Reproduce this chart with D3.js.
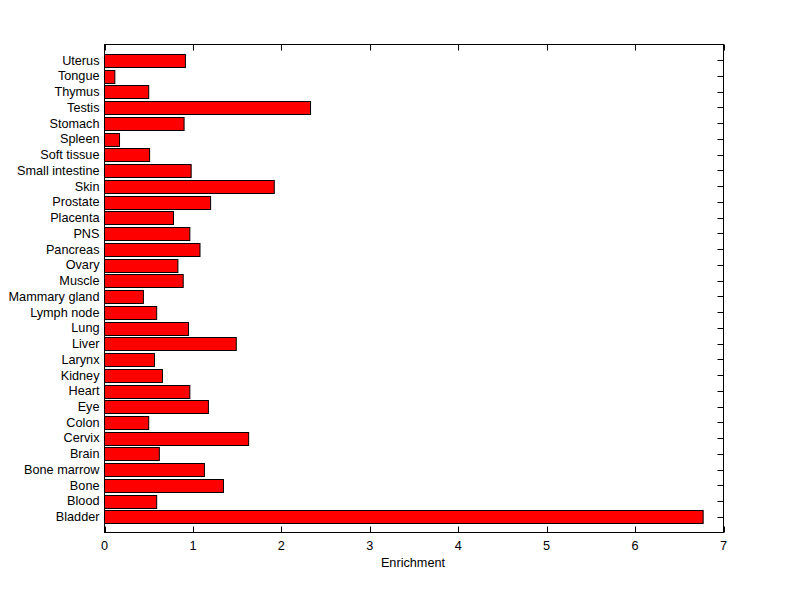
<!DOCTYPE html>
<html><head><meta charset="utf-8">
<script src="https://cdn.jsdelivr.net/npm/d3@7"></script>
<style>body{margin:0;background:#fff}svg{display:block}text{font-family:"Liberation Sans",Arial,sans-serif;font-size:12.7px;fill:#000}</style>
</head><body><svg id="c" width="800" height="599"></svg>
<script>
const categories = ["Bladder","Blood","Bone","Bone marrow","Brain","Cervix","Colon","Eye","Heart","Kidney","Larynx","Liver","Lung","Lymph node","Mammary gland","Muscle","Ovary","Pancreas","PNS","Placenta","Prostate","Skin","Small intestine","Soft tissue","Spleen","Stomach","Testis","Thymus","Tongue","Uterus"];
const values = [6.77,0.59,1.345,1.13,0.62,1.63,0.50,1.175,0.965,0.655,0.565,1.49,0.95,0.59,0.44,0.89,0.83,1.08,0.965,0.78,1.20,1.92,0.98,0.51,0.17,0.90,2.33,0.50,0.117,0.915];
const xTicks = [0,1,2,3,4,5,6,7];
const xLabel = "Enrichment";

const svg = d3.select("#c");
const L=104.5, R=723.5, T=44.5, B=532.5;
const x = d3.scaleLinear().domain([0,7]).range([L,R]);
const n = categories.length;
const y = d3.scaleLinear().domain([0,n+1]).range([B,T]);
const bw = 0.8*(B-T)/(n+1);

const g = svg.append("g");
g.selectAll("rect.bar").data(values).enter().append("rect")
  .attr("x", x(0))
  .attr("y",(d,i)=>Math.round(y(i+1)-bw/2)+0.5)
  .attr("width",d=>x(d)-x(0))
  .attr("height",Math.round(bw))
  .attr("fill","#ff0000").attr("stroke","#000").attr("stroke-width",1);

g.append("rect").attr("x",L).attr("y",T).attr("width",R-L).attr("height",B-T)
  .attr("fill","none").attr("stroke","#000").attr("stroke-width",1);

const tl=6;
xTicks.forEach(t=>{
  const xx=Math.round(x(t))+0.5;
  g.append("line").attr("x1",xx).attr("x2",xx).attr("y1",B).attr("y2",B-tl).attr("stroke","#000");
  g.append("line").attr("x1",xx).attr("x2",xx).attr("y1",T).attr("y2",T+tl).attr("stroke","#000");
  g.append("text").attr("x",x(t)).attr("y",B+17).attr("text-anchor","middle").text(t);
});
categories.forEach((c,i)=>{
  const yy=Math.round(y(i+1))+0.5;
  g.append("line").attr("x1",R).attr("x2",R-tl).attr("y1",yy).attr("y2",yy).attr("stroke","#000");
  g.append("text").attr("x",L-5).attr("y",y(i+1)).attr("dy","0.35em").attr("text-anchor","end").text(c);
});
g.append("text").attr("x",(L+R)/2 - 1).attr("y",B+34).attr("text-anchor","middle").text(xLabel);
</script></body></html>
